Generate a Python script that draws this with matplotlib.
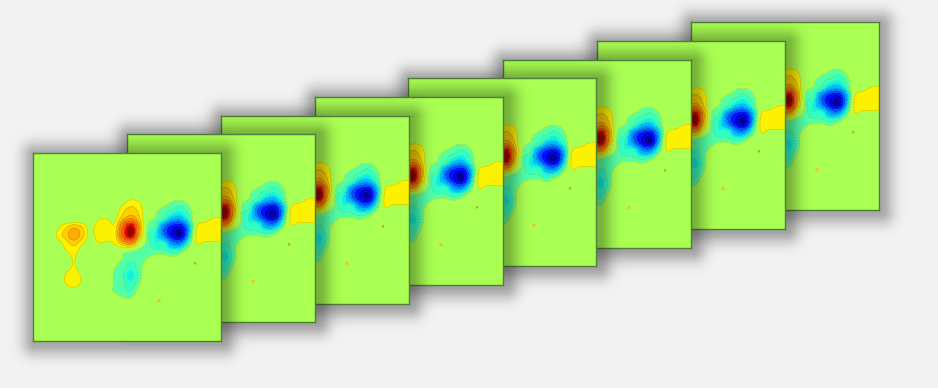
"""Stack of eight contour panels, the same field repeated front to back."""

import matplotlib
matplotlib.use("Agg")
import matplotlib.pyplot as plt
import numpy as np

W, H = 938, 388
PANEL_SIZE = 188

# top-left corner of each panel in pixels, back panel first
panel_left = [691, 597, 503, 408, 315, 221, 127, 33]
panel_top = [22, 41, 60, 78, 97, 116, 134, 153]

# field, one row per line, 0 is the background
field_rows = [
    [0] * 24,
    [0] * 24,
    [0] * 24,
    [0] * 24,
    [0] * 24,
    [0] * 24,
    [0, 0, 0, 0, 0, 0, 0, 0, 0, 0, 0, .6, 1.4, 1, 0, 0, -.5, -1.05, -1.3, -.8, 0, 0, 0, 0],
    [0, 0, 0, 0, 0, 0, 0, 0, 0, 0, .2, 1.7, 2.5, 1.6, 0, -.8, -1.4, -1.8, -2.2, -1.4, -.3, 0, 0, 0],
    [0, 0, 0, 0, -.4, -.4, -.4, 0, .8, .95, .7, 2.6, 3.8, 2.2, -.5, -1.1, -1.9, -3.6, -4, -2.2, 0, .5, 1, 1.1],
    [0, 0, 0, .7, 1.7, 2.6, 1.9, .5, 1.6, 1.6, 1.3, 5.5, 9, 3.5, -1, -1.8, -5.5, -8, -9, -4.5, .8, 1.5, 1.5, 1.5],
    [0, 0, 0, 1.2, 2.5, 3.9, 2.5, .6, 1.6, 1.5, 1.5, 6, 9.5, 3, -1.3, -2.6, -5.5, -9, -11, -4.5, 1.2, 1.6, 1.6, 1.4],
    [0, 0, 0, .5, 1.5, 2.4, 1.3, .2, .9, .9, 1.1, 3, 4, .6, -1.3, -2.3, -2.3, -5, -5.5, -2.2, 1, .85, .85, .85],
    [0, 0, 0, 0, .9, 1.4, .4, 0, 0, 0, 0, -.6, -.8, -1.4, -1.5, -1.5, -1.6, -2, -1.7, -.4, 0, 0, 0, 0],
    [0, 0, 0, 0, .2, 1.05, .2, 0, 0, 0, -.3, -1.1, -1.5, -1.5, -.9, -.4, -.3, -.7, -.3, 0, 0, 0, 0, 0],
    [0, 0, 0, 0, .5, 1.1, .3, 0, 0, 0, -1, -1.5, -2.1, -1.3, -.2, 0, 0, 0, 0, 0, 0, 0, 0, 0],
    [0, 0, 0, 0, 1.1, 1.6, .8, 0, 0, 0, -1.1, -1.7, -2.7, -1.4, 0, 0, 0, 0, 0, 0, 0, 0, 0, 0],
    [0, 0, 0, 0, 1, 1.4, .8, 0, 0, -.1, -1.1, -1.6, -2.1, -1.1, 0, 0, 0, 0, 0, 0, 0, 0, 0, 0],
    [0, 0, 0, 0, 0, .4, 0, 0, 0, -.5, -1.1, -1.5, -1.6, -.5, 0, 0, 0, 0, 0, 0, 0, 0, 0, 0],
    [0, 0, 0, 0, 0, 0, 0, 0, 0, 0, 0, -.7, -.8, 0, 0, 0, 0, 0, 0, 0, 0, 0, 0, 0],
    [0] * 24,
    [0] * 24,
    [0] * 24,
    [0] * 24,
    [0] * 24,
]

# small isolated specks, panel fractions
spot_x = [0.67, 0.862]
spot_y = [0.785, 0.587]
spot_color = ["#e8c83a", "#b8a040"]
spot_size = [7, 3]

neg_levels = [-13, -10, -8.5, -7, -5.5, -4.2, -3, -2.4, -1.7, -1]
pos_levels = [1, 2, 3, 4, 5.5, 7, 8, 9, 13]


def smooth(grid, factor=8):
    # cubic convolution along one axis, then the other
    def along(a):
        n = a.shape[0]
        pos = np.linspace(0, n - 1, (n - 1) * factor + 1)
        i = np.clip(pos.astype(int), 0, n - 2)
        t = (pos - i)[:, None]
        p0 = a[np.clip(i - 1, 0, n - 1)]
        p1 = a[i]
        p2 = a[i + 1]
        p3 = a[np.clip(i + 2, 0, n - 1)]
        return 0.5 * (2 * p1 + (p2 - p0) * t + (2 * p0 - 5 * p1 + 4 * p2 - p3) * t**2
                      + (3 * p1 - p0 - 3 * p2 + p3) * t**3)
    return along(along(grid).T).T


def band_colors():
    jet = plt.get_cmap("jet")
    neg = [0.02, 0.08, 0.14, 0.2, 0.26, 0.31, 0.36, 0.41, 0.45]
    pos = [0.655, 0.69, 0.73, 0.77, 0.81, 0.86, 0.91, 0.97]
    return [jet(v) for v in neg] + ["#a9ff52"] + [jet(v) for v in pos]


def add_shadow(fig, left, top, zorder):
    # soft grey halo around the panel, heavier to the lower right
    pad = 36
    x = np.arange(-pad, PANEL_SIZE + pad) + 0.5 - 2
    y = np.arange(-pad, PANEL_SIZE + pad) + 0.5 - 2
    dx = np.maximum(np.maximum(-x, x - PANEL_SIZE), 0)
    dy = np.maximum(np.maximum(-y, y - PANEL_SIZE), 0)
    d = np.hypot(dx[None, :], dy[:, None])
    rgba = np.zeros((len(y), len(x), 4))
    rgba[..., 3] = 0.3 * np.exp(-((d / 13.0) ** 2))
    size = PANEL_SIZE + 2 * pad
    ax = fig.add_axes([(left - pad) / W, 1 - (top - pad + size) / H, size / W, size / H], zorder=zorder)
    ax.imshow(rgba, aspect="auto", interpolation="bilinear")
    ax.axis("off")


def add_panel(fig, left, top, z, levels, colors, zorder):
    ax = fig.add_axes([left / W, 1 - (top + PANEL_SIZE) / H, PANEL_SIZE / W, PANEL_SIZE / H], zorder=zorder)
    xs = np.linspace(0, 1, z.shape[1])
    ys = np.linspace(0, 1, z.shape[0])
    ax.contourf(xs, ys, z, levels=levels, colors=colors)
    ax.contour(xs, ys, z, levels=levels[1:-1], colors="#406040", linewidths=0.4, alpha=0.3)
    ax.scatter(spot_x, spot_y, s=spot_size, c=spot_color, linewidths=0)
    ax.set_xlim(0, 1)
    ax.set_ylim(1, 0)
    ax.set_xticks([])
    ax.set_yticks([])
    for s in ax.spines.values():
        s.set_color("#4f7f3a")
        s.set_linewidth(1.0)


def main():
    z = smooth(np.array(field_rows, dtype=float))
    levels = neg_levels + pos_levels
    colors = band_colors()

    fig = plt.figure(figsize=(W / 100, H / 100), dpi=100, facecolor="#f2f2f2")
    for i, (left, top) in enumerate(zip(panel_left, panel_top)):
        add_shadow(fig, left, top, 2 * i)
        add_panel(fig, left, top, z, levels, colors, 2 * i + 1)
    fig.savefig("out.png", dpi=100, facecolor=fig.get_facecolor())
    plt.close(fig)


if __name__ == "__main__":
    main()
